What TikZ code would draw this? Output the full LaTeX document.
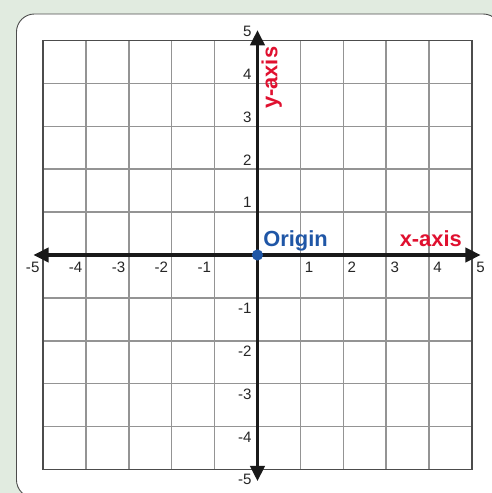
\documentclass[tikz,border=0pt]{standalone}
\usepackage{fontspec}
\setmainfont{Liberation Sans}
\usetikzlibrary{arrows.meta}
\definecolor{bggreen}{HTML}{E1EBE0}
\definecolor{axred}{HTML}{E0102F}
\definecolor{axblue}{HTML}{1F56A6}
\tikzset{
  gridline/.style={draw=black!42, line width=1pt},
  gridborder/.style={draw=black!70, line width=1.3pt},
  axisline/.style={draw=black!90, line width=2pt, -{Triangle[length=10pt,width=9.5pt]}},
  numlabel/.style={font=\fontsize{10}{12}\selectfont, text=black!85, inner sep=0pt},
  axlabel/.style={font=\fontsize{14.5}{16}\selectfont\bfseries, text=axred, inner sep=0pt},
}
\begin{document}
\begin{tikzpicture}
\useasboundingbox (-6.002,-5.548) rectangle (5.466,5.944);
\fill[bggreen] (-6.002,-5.548) rectangle (5.466,5.944);
\draw[fill=white, draw=black!70, line width=0.6pt, rounded corners=0.42cm] (-5.618,-5.66) rectangle (5.68,5.618);
% grid
\foreach \k in {-4,...,4} {
  \draw[gridline] (\k,-5) -- (\k,5);
  \draw[gridline] (-5,\k) -- (5,\k);
}
\draw[gridborder] (-5,-5) rectangle (5,5);
% axes
\coordinate (O) at (0,0);
\coordinate (xl) at (-5.22,0);
\coordinate (xr) at (5.2,0);
\coordinate (yb) at (0,-5.27);
\coordinate (yt) at (0,5.24);
\draw[axisline] (O) -- (xr);
\draw[axisline] (O) -- (xl);
\draw[axisline] (O) -- (yt);
\draw[axisline] (O) -- (yb);
% x labels
\foreach \k in {-5,...,-1} {
  \node[numlabel] (xn\k) at (\k-0.24,-0.28) {\k};
}
\foreach \k in {1,...,5} {
  \node[numlabel] (xp\k) at (\k+0.2,-0.28) {\k};
}
% y labels
\foreach \k in {1,...,5} {
  \node[numlabel, anchor=east] (yp\k) at (-0.13,\k+0.22) {\k};
}
\foreach \k in {-5,...,-1} {
  \node[numlabel, anchor=east] (yn\k) at (-0.13,\k-0.24) {\k};
}
% origin
\fill[axblue] (O) circle (0.13);
\node[axlabel, text=axblue, anchor=base west] (orig) at (0.13,0.2) {Origin};
\node[axlabel, anchor=base] (xaxis) at (4.04,0.2) {x-axis};
\node[axlabel, rotate=90, anchor=center] (yaxis) at (0.33,4.13) {y-axis};
\end{tikzpicture}
\end{document}
